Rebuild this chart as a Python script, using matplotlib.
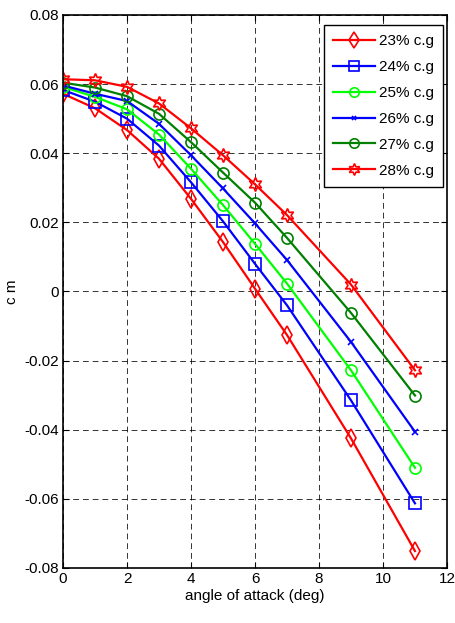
import numpy as np
import matplotlib.pyplot as plt
from matplotlib import font_manager

# pick a narrow sans face if one is installed
names = {f.name for f in font_manager.fontManager.ttflist}
face = 'Liberation Sans Narrow' if 'Liberation Sans Narrow' in names else 'Liberation Sans'
plt.rcParams['font.family'] = ['Liberation Sans', 'DejaVu Sans']
narrow = face if face != 'Liberation Sans' else (
    'DejaVu Sans Condensed' if 'DejaVu Sans Condensed' in names else 'Liberation Sans')

alpha = [0, 1, 2, 3, 4, 5, 6, 7, 9, 11]  # angle of attack, deg

cm_23 = [0.0572, 0.0530, 0.0467, 0.0384, 0.0268, 0.0143, 0.0008, -0.0126, -0.0425, -0.0751]
cm_24 = [0.0583, 0.0549, 0.0500, 0.0422, 0.0316, 0.0203, 0.0080, -0.0040, -0.0315, -0.0613]
cm_25 = [0.0592, 0.0563, 0.0527, 0.0454, 0.0355, 0.0250, 0.0138, 0.0023, -0.0228, -0.0510]
cm_26 = [0.0596, 0.0572, 0.0551, 0.0485, 0.0394, 0.0298, 0.0197, 0.0091, -0.0146, -0.0406]
cm_27 = [0.0604, 0.0590, 0.0565, 0.0514, 0.0432, 0.0344, 0.0257, 0.0155, -0.0062, -0.0301]
cm_28 = [0.0614, 0.0611, 0.0592, 0.0544, 0.0472, 0.0394, 0.0310, 0.0221, 0.0020, -0.0228]

labels = ['23% c.g', '24% c.g', '25% c.g', '26% c.g', '27% c.g', '28% c.g']

fig = plt.figure(figsize=(4.55, 6.23), dpi=100)
ax = fig.add_axes([0.1385, 0.0883, 0.8439, 0.8877])

lw = 1.6
ax.plot(alpha, cm_23, '-', color='red', marker='d', ms=9, mfc='none', mew=1.2, lw=lw, label=labels[0])
ax.plot(alpha, cm_24, '-', color='blue', marker='s', ms=8, mfc='none', mew=1.2, lw=lw, label=labels[1])
ax.plot(alpha, cm_25, '-', color=(0, 1, 0), marker='o', ms=8, mfc='none', mew=1.2, lw=lw, label=labels[2])
ax.plot(alpha, cm_26, '-', color='blue', marker='x', ms=4, mew=1.2, lw=lw, label=labels[3])
ax.plot(alpha, cm_27, '-', color=(0, 0.5, 0), marker='o', ms=8, mfc='none', mew=1.2, lw=lw, label=labels[4])
ax.plot(alpha, cm_28, '-', color='red', marker=(6, 1, 0), ms=10, mfc='none', mew=1.2, lw=lw, label=labels[5])

ax.set_xlim(0, 12)
ax.set_ylim(-0.08, 0.08)
ax.set_xticks(np.arange(0, 13, 2))
ax.set_yticks(np.arange(-0.08, 0.081, 0.02))
ax.set_yticklabels(['-0.08', '-0.06', '-0.04', '-0.02', '0', '0.02', '0.04', '0.06', '0.08'])
ax.tick_params(direction='in', length=4, labelsize=11, top=True, right=True, pad=3)
ax.grid(True, color='black', linestyle=(0, (6, 4)), linewidth=0.7, alpha=0.8)
for s in ax.spines.values():
    s.set_linewidth(1.2)

ax.set_xlabel('angle of attack (deg)', fontsize=11, labelpad=2, family=[narrow, 'DejaVu Sans'])
ax.set_ylabel('c m', fontsize=11, labelpad=4, family=[narrow, 'DejaVu Sans'])

leg = ax.legend(loc='upper right', bbox_to_anchor=(0.9896, 0.9819), borderaxespad=0,
                fontsize=11, fancybox=False, framealpha=1, edgecolor='black',
                handlelength=2.75, borderpad=0.6, labelspacing=0.78, handletextpad=0.27,
                markerscale=0.85)
leg.get_frame().set_linewidth(1.0)

plt.savefig('out.png', dpi=100)
